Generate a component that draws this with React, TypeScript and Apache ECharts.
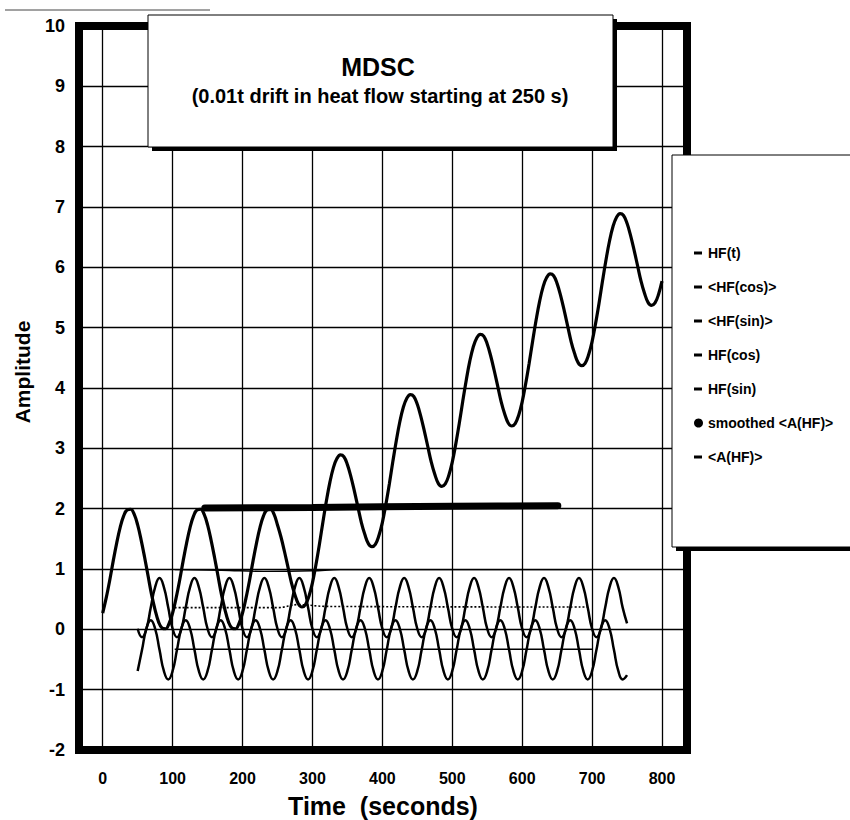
import React, { useEffect, useRef } from "react";
import * as echarts from "echarts";

// ---- axis ranges ----
const X_MIN = 0;
const X_MAX = 800;
const X_INTERVAL = 100;
const FRAME_X_MIN = -35;
const FRAME_X_MAX = 835;
const Y_MIN = -2;
const Y_MAX = 10;
const Y_INTERVAL = 1;

// ---- HF(t): sampled every 5 s from t = 0 ----
const HF_T_START = 0;
const HF_T_STEP = 5;
const hfT = [
  0.27, 0.52, 0.81, 1.13, 1.43, 1.69, 1.88, 1.98, 1.99, 1.91, 1.73, 1.48, 1.19, 0.88, 0.57, 0.32, 0.12, 0.02, 0.01, 0.10,
  0.27, 0.52, 0.81, 1.13, 1.43, 1.69, 1.88, 1.98, 1.99, 1.91, 1.73, 1.48, 1.19, 0.88, 0.57, 0.32, 0.12, 0.02, 0.01, 0.10,
  0.27, 0.52, 0.81, 1.13, 1.43, 1.69, 1.88, 1.98, 1.99, 1.91, 1.73, 1.53, 1.29, 1.03, 0.77, 0.57, 0.42, 0.37, 0.41, 0.55,
  0.77, 1.07, 1.41, 1.78, 2.13, 2.44, 2.68, 2.83, 2.89, 2.86, 2.73, 2.53, 2.29, 2.03, 1.77, 1.57, 1.42, 1.37, 1.41, 1.55,
  1.77, 2.07, 2.41, 2.78, 3.13, 3.44, 3.68, 3.83, 3.89, 3.86, 3.73, 3.53, 3.29, 3.03, 2.77, 2.57, 2.42, 2.37, 2.41, 2.55,
  2.77, 3.07, 3.41, 3.78, 4.13, 4.44, 4.68, 4.83, 4.89, 4.86, 4.73, 4.53, 4.29, 4.03, 3.77, 3.57, 3.42, 3.37, 3.41, 3.55,
  3.77, 4.07, 4.41, 4.78, 5.13, 5.44, 5.68, 5.83, 5.89, 5.86, 5.73, 5.53, 5.29, 5.03, 4.77, 4.57, 4.42, 4.37, 4.41, 4.55,
  4.77, 5.07, 5.41, 5.78, 6.13, 6.44, 6.68, 6.83, 6.89, 6.86, 6.73, 6.53, 6.29, 6.03, 5.77, 5.57, 5.42, 5.37, 5.41, 5.55,
  5.77,
];

// ---- HF(cos) and HF(sin): sampled every 6.25 s from t = 50 ----
const OSC_START = 50;
const OSC_STEP = 6.25;
const hfCos = [
  0.01, -0.13, 0.01, 0.36, 0.70, 0.85, 0.70, 0.36,
  0.01, -0.13, 0.01, 0.36, 0.70, 0.85, 0.70, 0.36,
  0.01, -0.13, 0.01, 0.36, 0.70, 0.85, 0.70, 0.36,
  0.01, -0.13, 0.01, 0.36, 0.70, 0.85, 0.70, 0.36,
  0.01, -0.13, 0.01, 0.36, 0.70, 0.85, 0.70, 0.36,
  0.01, -0.13, 0.01, 0.36, 0.70, 0.85, 0.70, 0.36,
  0.01, -0.13, 0.01, 0.36, 0.70, 0.85, 0.70, 0.36,
  0.01, -0.13, 0.01, 0.36, 0.70, 0.85, 0.70, 0.36,
  0.01, -0.13, 0.01, 0.36, 0.70, 0.85, 0.70, 0.36,
  0.01, -0.13, 0.01, 0.36, 0.70, 0.85, 0.70, 0.36,
  0.01, -0.13, 0.01, 0.36, 0.70, 0.85, 0.70, 0.36,
  0.01, -0.13, 0.01, 0.36, 0.70, 0.85, 0.70, 0.36,
  0.01, -0.13, 0.01, 0.36, 0.70, 0.85, 0.70, 0.36,
  0.01, -0.13, 0.01, 0.36, 0.70, 0.85, 0.70, 0.36,
  0.10,
];
const hfSin = [
  -0.69, -0.34, 0.01, 0.15, 0.01, -0.34, -0.69, -0.83,
  -0.69, -0.34, 0.01, 0.15, 0.01, -0.34, -0.69, -0.83,
  -0.69, -0.34, 0.01, 0.15, 0.01, -0.34, -0.69, -0.83,
  -0.69, -0.34, 0.01, 0.15, 0.01, -0.34, -0.69, -0.83,
  -0.69, -0.34, 0.01, 0.15, 0.01, -0.34, -0.69, -0.83,
  -0.69, -0.34, 0.01, 0.15, 0.01, -0.34, -0.69, -0.83,
  -0.69, -0.34, 0.01, 0.15, 0.01, -0.34, -0.69, -0.83,
  -0.69, -0.34, 0.01, 0.15, 0.01, -0.34, -0.69, -0.83,
  -0.69, -0.34, 0.01, 0.15, 0.01, -0.34, -0.69, -0.83,
  -0.69, -0.34, 0.01, 0.15, 0.01, -0.34, -0.69, -0.83,
  -0.69, -0.34, 0.01, 0.15, 0.01, -0.34, -0.69, -0.83,
  -0.69, -0.34, 0.01, 0.15, 0.01, -0.34, -0.69, -0.83,
  -0.69, -0.34, 0.01, 0.15, 0.01, -0.34, -0.69, -0.83,
  -0.69, -0.34, 0.01, 0.15, 0.01, -0.34, -0.69, -0.83,
  -0.76,
];

// ---- averaged / amplitude lines ----
const cosAvgTimes = [103, 250, 280, 320, 694];
const cosAvgValues = [0.36, 0.36, 0.41, 0.38, 0.37];
const sinAvgTimes = [103, 700];
const sinAvgValues = [-0.33, -0.33];
const ampTimes = [103, 170, 230, 300, 340, 700];
const ampValues = [0.99, 0.98, 0.96, 0.97, 0.99, 0.99];
const smoothAmpTimes = [146, 300, 500, 651];
const smoothAmpValues = [2.01, 2.02, 2.04, 2.05];

const NAMES = ["HF(t)", "<HF(cos)>", "<HF(sin)>", "HF(cos)", "HF(sin)", "smoothed <A(HF)>", "<A(HF)>"];

const FONT = '"Liberation Sans", Arial, Helvetica, sans-serif';
const DASH_ICON = "path://M0,0M9,9M0,3L8,3L8,6L0,6Z";

const stepPairs = (vals: number[], start: number, step: number) =>
  vals.map((v, i) => [start + i * step, v]);
const zipPairs = (ts: number[], vs: number[]) => ts.map((t, i) => [t, vs[i]]);

export default function App() {
  const ref = useRef<HTMLDivElement>(null);

  useEffect(() => {
    if (!ref.current) return;
    const chart = echarts.init(ref.current, undefined, { renderer: "svg" });

    const lineSeries = (name: string, data: number[][], lineStyle: any, extra: any = {}) => ({
      type: "line",
      name,
      data,
      xAxisIndex: 1,
      yAxisIndex: 1,
      symbol: "none",
      showSymbol: false,
      silent: true,
      itemStyle: { color: "#000" },
      lineStyle: { color: "#000", ...lineStyle },
      z: 2,
      ...extra,
    });

    chart.setOption({
      animation: false,
      backgroundColor: "#fff",
      textStyle: { fontFamily: FONT, color: "#000" },
      grid: [
        {
          left: 79,
          top: 26,
          width: 608,
          height: 724,
          show: true,
          borderColor: "#000",
          borderWidth: 8,
          backgroundColor: "transparent",
        },
        { left: 102.7, top: 26, width: 559.3, height: 724 },
      ],
      xAxis: [
        { gridIndex: 0, type: "value", min: FRAME_X_MIN, max: FRAME_X_MAX, show: false },
        {
          gridIndex: 1,
          type: "value",
          min: X_MIN,
          max: X_MAX,
          interval: X_INTERVAL,
          axisLine: { show: false },
          axisTick: { show: false },
          axisLabel: {
            margin: 20,
            fontSize: 16,
            fontWeight: "bold",
            fontFamily: FONT,
            color: "#000",
          },
          splitLine: { show: true, lineStyle: { color: "#000", width: 1.3 } },
        },
      ],
      yAxis: [
        {
          gridIndex: 0,
          type: "value",
          min: Y_MIN,
          max: Y_MAX,
          interval: Y_INTERVAL,
          axisLine: { show: false },
          axisTick: { show: false },
          axisLabel: {
            margin: 14,
            fontSize: 18,
            fontWeight: "bold",
            fontFamily: FONT,
            color: "#000",
          },
          splitLine: { show: true, lineStyle: { color: "#000", width: 1.3 } },
        },
        { gridIndex: 1, type: "value", min: Y_MIN, max: Y_MAX, show: false },
      ],
      legend: {
        orient: "vertical",
        left: 694,
        top: 246,
        padding: 0,
        itemWidth: 9,
        itemHeight: 9,
        itemGap: 20,
        selectedMode: false,
        itemStyle: { borderWidth: 0 },
        textStyle: { fontSize: 14, fontWeight: "bold", fontFamily: FONT, color: "#000" },
        data: NAMES.map((n) => ({ name: n, icon: n === "smoothed <A(HF)>" ? "circle" : DASH_ICON })),
        z: 6,
      },
      series: [
        lineSeries(NAMES[0], stepPairs(hfT, HF_T_START, HF_T_STEP), { width: 3.2 }, { smooth: 0.4 }),
        lineSeries(NAMES[1], zipPairs(cosAvgTimes, cosAvgValues), { width: 1.6, type: [2, 2] }, { smooth: 0.4 }),
        lineSeries(NAMES[2], zipPairs(sinAvgTimes, sinAvgValues), { width: 1.4 }),
        lineSeries(NAMES[3], stepPairs(hfCos, OSC_START, OSC_STEP), { width: 2.5 }, { smooth: 0.5 }),
        lineSeries(NAMES[4], stepPairs(hfSin, OSC_START, OSC_STEP), { width: 2.5 }, { smooth: 0.5 }),
        lineSeries(NAMES[5], zipPairs(smoothAmpTimes, smoothAmpValues), { width: 7, cap: "round" }, { smooth: 0.3 }),
        lineSeries(NAMES[6], zipPairs(ampTimes, ampValues), { width: 1.4 }, { smooth: 0.4 }),
      ],
      graphic: [
        {
          type: "line",
          shape: { x1: 5, y1: 10, x2: 210, y2: 10 },
          style: { stroke: "#444", lineWidth: 1 },
          z: 20,
        },
        {
          type: "rect",
          shape: { x: 152, y: 19, width: 465, height: 132 },
          style: { fill: "#000" },
          z: 20,
        },
        {
          type: "rect",
          shape: { x: 148, y: 15, width: 465, height: 132 },
          style: { fill: "#fff", stroke: "#000", lineWidth: 1 },
          z: 21,
        },
        {
          type: "text",
          x: 378,
          y: 67,
          style: {
            text: "MDSC",
            fontSize: 25,
            fontWeight: "bold",
            fontFamily: FONT,
            fill: "#000",
            align: "center",
            verticalAlign: "middle",
          },
          z: 22,
        },
        {
          type: "text",
          x: 380,
          y: 96,
          style: {
            text: "(0.01t drift in heat flow starting at 250 s)",
            fontSize: 20,
            fontWeight: "bold",
            fontFamily: FONT,
            fill: "#000",
            align: "center",
            verticalAlign: "middle",
          },
          z: 22,
        },
        {
          type: "rect",
          shape: { x: 676, y: 159, width: 200, height: 392 },
          style: { fill: "#000" },
          z: 4,
        },
        {
          type: "rect",
          shape: { x: 672, y: 155, width: 200, height: 392 },
          style: { fill: "#fff", stroke: "#000", lineWidth: 1 },
          z: 5,
        },
        {
          type: "text",
          x: 22,
          y: 372,
          rotation: Math.PI / 2,
          style: {
            text: "Amplitude",
            fontSize: 21,
            fontWeight: "bold",
            fontFamily: FONT,
            fill: "#000",
            align: "center",
            verticalAlign: "middle",
          },
          z: 22,
        },
        {
          type: "text",
          x: 383,
          y: 806,
          style: {
            text: "Time  (seconds)",
            fontSize: 25,
            fontWeight: "bold",
            fontFamily: FONT,
            fill: "#000",
            align: "center",
            verticalAlign: "middle",
          },
          z: 22,
        },
      ],
    });

    return () => chart.dispose();
  }, []);

  return <div ref={ref} style={{ width: 850, height: 820, position: "absolute", left: 0, top: 0 }} />;
}
